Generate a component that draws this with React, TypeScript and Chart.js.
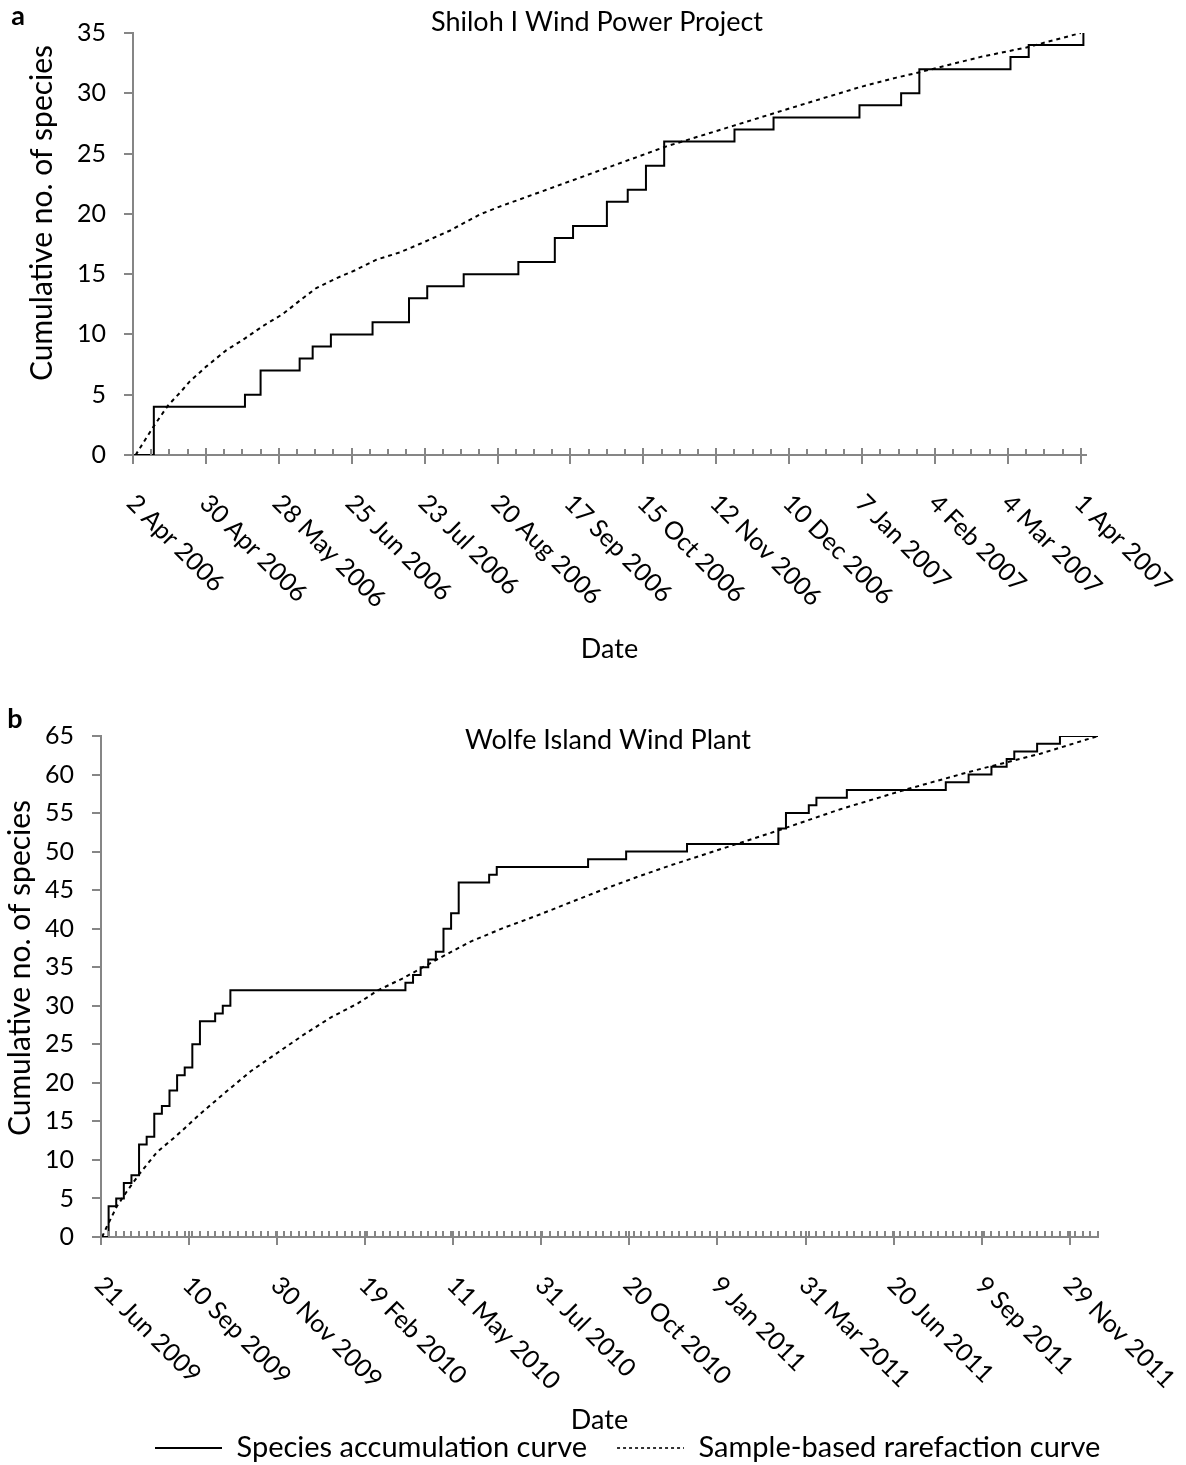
import React, { useEffect, useRef } from "react";
import { Chart, registerables } from "chart.js";

Chart.register(...registerables);

const FONT = "Lato, 'Open Sans', sans-serif";
const TICK_FS = 25;
const TITLE_FS = 27;
const YTITLE_FS = 30;
const LEGEND_FS = 29;
const LEGEND_PAD = 30;
const AXIS_GRAY = "#868686";

// ---------- Panel a : Shiloh I Wind Power Project (x = days since 2 Apr 2006)
const shilohStepDays = [0, 8, 43, 49, 64, 69, 76, 92, 106, 113, 127, 148, 162, 169, 182, 190, 197, 204, 231, 246, 279, 295, 302, 337, 344, 365];
const shilohStepSpecies = [0, 4, 5, 7, 8, 9, 10, 11, 13, 14, 15, 16, 18, 19, 21, 22, 24, 26, 27, 28, 29, 30, 32, 33, 34, 35];
const shilohRareDays = [1, 7.7, 13.4, 18.6, 21.8, 28.2, 35.9, 42.9, 49.9, 57.6, 64, 70.4, 78.1, 85.1, 93.5, 102.4, 110.1, 121.6, 133.2, 140.8, 158.8, 184.4, 204.9, 230.5, 256, 279, 293.2, 302.2, 325.2, 343.1, 364];
const shilohRareSpecies = [0, 2.3, 4.1, 5.3, 6.1, 7.35, 8.7, 9.65, 10.7, 11.7, 12.8, 13.85, 14.66, 15.3, 16.2, 16.8, 17.5, 18.6, 19.95, 20.6, 22.0, 24.0, 25.6, 27.3, 29.0, 30.5, 31.3, 31.75, 33.0, 33.8, 35];
const shilohTickLabels = ["2 Apr 2006", "30 Apr 2006", "28 May 2006", "25 Jun 2006", "23 Jul 2006", "20 Aug 2006", "17 Sep 2006", "15 Oct 2006", "12 Nov 2006", "10 Dec 2006", "7 Jan 2007", "4 Feb 2007", "4 Mar 2007", "1 Apr 2007"];

// ---------- Panel b : Wolfe Island Wind Plant (x = days since 21 Jun 2009)
const wolfeStepDays = [0, 7, 14, 21, 28, 35, 42, 49, 56, 63, 70, 77, 84, 91, 105, 112, 119, 280, 287, 294, 301, 308, 315, 322, 329, 357, 364, 448, 483, 539, 623, 630, 651, 658, 686, 777, 798, 819, 833, 840, 861, 882, 917];
const wolfeStepSpecies = [0, 4, 5, 7, 8, 12, 13, 16, 17, 19, 21, 22, 25, 28, 29, 30, 32, 33, 34, 35, 36, 37, 40, 42, 46, 47, 48, 49, 50, 51, 53, 55, 56, 57, 58, 59, 60, 61, 62, 63, 64, 65, 65];
const wolfeRareDays = [1, 5.2, 14.5, 23.7, 36, 51.4, 69.9, 91.5, 113, 137.7, 162.3, 187, 211.6, 236.2, 254.7, 278.2, 308.9, 339.5, 370.2, 400.9, 431.5, 462.2, 492.9, 523.5, 554.2, 584.9, 615.6, 680, 741.4, 802.6, 864, 917];
const wolfeRareSpecies = [0, 1.3, 3.95, 5.9, 8.3, 11.0, 13.2, 16.0, 18.6, 21.5, 23.9, 26.3, 28.5, 30.3, 32.0, 33.6, 36.0, 38.3, 40.1, 41.7, 43.4, 45.1, 46.7, 48.2, 49.6, 51.0, 52.4, 55.5, 58.1, 60.5, 62.7, 65];
const wolfeTickLabels = ["21 Jun 2009", "10 Sep 2009", "30 Nov 2009", "19 Feb 2010", "11 May 2010", "31 Jul 2010", "20 Oct 2010", "9 Jan 2011", "31 Mar 2011", "20 Jun 2011", "9 Sep 2011", "29 Nov 2011"];

const SERIES_NAMES = ["Species accumulation curve", "Sample-based rarefaction curve"];

type PanelCfg = {
  id: string;
  letter: string;
  title: string;
  canvasHeight: number;
  stepDays: number[];
  stepSpecies: number[];
  rareDays: number[];
  rareSpecies: number[];
  tickLabels: string[];
  majorStep: number;
  minorStep: number;
  xMax: number;
  yMax: number;
  yAxisWidth: number;
  padTop: number;
  padRight: number;
  xTitlePad: { top: number; bottom: number };
  letterPos: [number, number];
  titlePos: [number, number];
  yTitlePos: [number, number];
  majorUp: number;
  majorDown: number;
  minorUp: number;
  showLegend: boolean;
  legendStartX: number;
  legendCenterY: number;
};

const panelA: PanelCfg = {
  id: "a",
  letter: "a",
  title: "Shiloh I Wind Power Project",
  canvasHeight: 690,
  stepDays: shilohStepDays,
  stepSpecies: shilohStepSpecies,
  rareDays: shilohRareDays,
  rareSpecies: shilohRareSpecies,
  tickLabels: shilohTickLabels,
  majorStep: 28,
  minorStep: 7,
  xMax: 366,
  yMax: 35,
  yAxisWidth: 133,
  padTop: 25,
  padRight: 100,
  xTitlePad: { top: 180.5, bottom: 27.5 },
  letterPos: [18, 16],
  titlePos: [597, 22],
  yTitlePos: [42, 213],
  majorUp: 7,
  majorDown: 9,
  minorUp: 6,
  showLegend: false,
  legendStartX: 0,
  legendCenterY: 0,
};

const panelB: PanelCfg = {
  id: "b",
  letter: "b",
  title: "Wolfe Island Wind Plant",
  canvasHeight: 775,
  stepDays: wolfeStepDays,
  stepSpecies: wolfeStepSpecies,
  rareDays: wolfeRareDays,
  rareSpecies: wolfeRareSpecies,
  tickLabels: wolfeTickLabels,
  majorStep: 81,
  minorStep: 7,
  xMax: 917,
  yMax: 65,
  yAxisWidth: 101,
  padTop: 46,
  padRight: 88,
  xTitlePad: { top: 169.5, bottom: -37.5 },
  letterPos: [15, 29],
  titlePos: [608, 50],
  yTitlePos: [20, 278],
  majorUp: 6,
  majorDown: 8,
  minorUp: 6,
  showLegend: true,
  legendStartX: 155,
  legendCenterY: 758,
};

function decorPlugin(p: PanelCfg) {
  return {
    id: "decor-" + p.id,
    afterLayout(chart: any) {
      const lg = chart.legend;
      if (!p.showLegend || !lg || !lg.lineWidths) return;
      const start = (lg.left + LEGEND_PAD + lg.right - lg.lineWidths[0]) / 2;
      const dx = p.legendStartX - start;
      const dy = p.legendCenterY - (lg.top + LEGEND_PAD + LEGEND_FS / 2);
      lg.left += dx;
      lg.right += dx;
      lg.top += dy;
      lg.bottom += dy;
    },
    afterDraw(chart: any) {
      const ctx: CanvasRenderingContext2D = chart.ctx;
      const xs = chart.scales.x;
      const axisY = chart.chartArea.bottom;
      ctx.save();
      // tick marks
      ctx.strokeStyle = AXIS_GRAY;
      ctx.lineWidth = 2;
      ctx.beginPath();
      for (let d = 0; d <= p.xMax + 1e-9; d += p.minorStep) {
        if (d % p.majorStep === 0) continue;
        const px = Math.round(xs.getPixelForValue(d));
        ctx.moveTo(px, axisY - p.minorUp);
        ctx.lineTo(px, axisY);
      }
      p.tickLabels.forEach((_, i) => {
        const px = Math.round(xs.getPixelForValue(i * p.majorStep));
        ctx.moveTo(px, axisY - p.majorUp);
        ctx.lineTo(px, axisY + p.majorDown);
      });
      ctx.stroke();

      // rotated date labels
      ctx.fillStyle = "#000";
      ctx.font = `${TICK_FS}px ${FONT}`;
      ctx.textAlign = "left";
      ctx.textBaseline = "middle";
      p.tickLabels.forEach((lab, i) => {
        const px = xs.getPixelForValue(i * p.majorStep);
        ctx.save();
        ctx.translate(px - 2, axisY + 44);
        ctx.rotate(Math.PI / 4);
        ctx.fillText(lab, 0, 0);
        ctx.restore();
      });

      // panel title
      ctx.textAlign = "center";
      ctx.font = `${TITLE_FS}px ${FONT}`;
      ctx.fillText(p.title, p.titlePos[0], p.titlePos[1]);

      // y-axis title
      ctx.save();
      ctx.font = `${YTITLE_FS}px ${FONT}`;
      ctx.translate(p.yTitlePos[0], p.yTitlePos[1]);
      ctx.rotate(-Math.PI / 2);
      ctx.fillText("Cumulative no. of species", 0, 0);
      ctx.restore();

      // panel letter
      ctx.font = `bold ${TITLE_FS}px ${FONT}`;
      ctx.fillText(p.letter, p.letterPos[0], p.letterPos[1]);
      ctx.restore();
    },
  };
}

function buildConfig(p: PanelCfg): any {
  const stepData = p.stepDays.map((d, i) => ({ x: d, y: p.stepSpecies[i] }));
  const rareData = p.rareDays.map((d, i) => ({ x: d, y: p.rareSpecies[i] }));
  return {
    type: "line",
    data: {
      datasets: [
        {
          label: SERIES_NAMES[0],
          data: stepData,
          stepped: "before",
          borderColor: "#000",
          backgroundColor: "#000",
          borderWidth: 2,
          pointRadius: 0,
          fill: false,
        },
        {
          label: SERIES_NAMES[1],
          data: rareData,
          borderColor: "#000",
          backgroundColor: "#000",
          borderWidth: 2,
          borderDash: [4, 4],
          pointRadius: 0,
          tension: 0,
          fill: false,
        },
      ],
    },
    options: {
      responsive: false,
      animation: false,
      devicePixelRatio: 1,
      layout: { padding: { left: 0, right: p.padRight, top: p.padTop, bottom: 0 } },
      plugins: {
        tooltip: { enabled: false },
        title: { display: false },
        legend: p.showLegend
          ? {
              display: true,
              position: "bottom",
              align: "center",
              labels: {
                usePointStyle: true,
                pointStyle: "line",
                pointStyleWidth: 67,
                color: "#000",
                font: { family: FONT, size: LEGEND_FS },
                padding: LEGEND_PAD,
                generateLabels(chart: any) {
                  const items = (Chart as any).defaults.plugins.legend.labels.generateLabels(chart);
                  return items.map((it: any, i: number) => ({
                    ...it,
                    pointStyle: "line",
                    strokeStyle: "#000",
                    fillStyle: "#000",
                    lineWidth: i === 0 ? 2 : 1.6,
                    lineDash: i === 0 ? [] : [3, 3],
                  }));
                },
              },
            }
          : { display: false },
      },
      scales: {
        x: {
          type: "linear",
          min: 0,
          max: p.xMax,
          ticks: { display: false },
          grid: { display: false, drawTicks: false },
          border: { display: true, color: AXIS_GRAY, width: 2 },
          title: {
            display: true,
            text: "Date",
            color: "#000",
            font: { family: FONT, size: TITLE_FS, lineHeight: 1 },
            padding: p.xTitlePad,
          },
        },
        y: {
          type: "linear",
          min: 0,
          max: p.yMax,
          afterFit: (s: any) => {
            s.width = p.yAxisWidth;
          },
          ticks: {
            stepSize: 5,
            color: "#000",
            font: { family: FONT, size: TICK_FS },
            padding: 18,
          },
          grid: {
            drawOnChartArea: false,
            drawTicks: true,
            tickLength: 9,
            tickColor: AXIS_GRAY,
            tickWidth: 2,
            color: AXIS_GRAY,
            lineWidth: 2,
          },
          border: { display: true, color: AXIS_GRAY, width: 2 },
        },
      },
    },
    plugins: [decorPlugin(p)],
  };
}

function Panel({ cfg, top }: { cfg: PanelCfg; top: number }) {
  const ref = useRef<HTMLCanvasElement>(null);
  useEffect(() => {
    if (!ref.current) return;
    const chart = new Chart(ref.current, buildConfig(cfg));
    return () => chart.destroy();
  }, [cfg]);
  return (
    <canvas
      ref={ref}
      width={1186}
      height={cfg.canvasHeight}
      style={{ position: "absolute", left: 0, top, width: 1186, height: cfg.canvasHeight }}
    />
  );
}

export default function App() {
  return (
    <div style={{ position: "absolute", left: 0, top: 0, width: 1186, height: 1465, background: "#fff" }}>
      <Panel cfg={panelA} top={0} />
      <Panel cfg={panelB} top={690} />
    </div>
  );
}
